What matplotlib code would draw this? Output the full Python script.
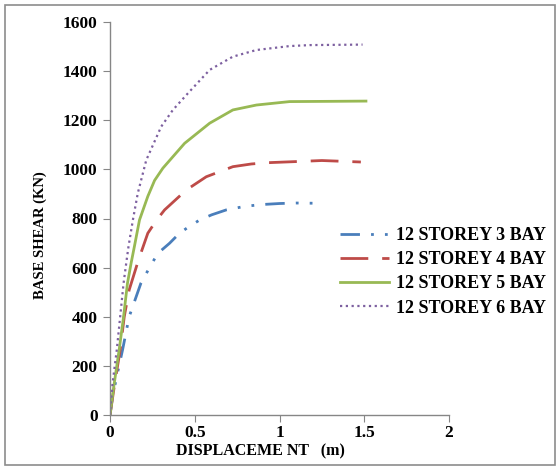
import matplotlib
matplotlib.use("Agg")
import matplotlib.pyplot as plt
from matplotlib.patches import Rectangle

labels = ["12 STOREY 3 BAY", "12 STOREY 4 BAY", "12 STOREY 5 BAY", "12 STOREY 6 BAY"]

x_3bay = [0.0, 0.015, 0.048, 0.074, 0.113, 0.182, 0.233, 0.282, 0.351, 0.41, 0.46, 0.529, 0.60, 0.686, 0.80, 0.90, 1.00, 1.10, 1.22]
y_3bay = [0, 75, 183, 265, 400, 536, 600, 658, 699, 740, 764, 794, 815, 835, 850, 857, 861, 863, 862]

x_4bay = [0.0, 0.028, 0.06, 0.084, 0.113, 0.168, 0.223, 0.273, 0.322, 0.45, 0.568, 0.725, 0.834, 0.923, 1.07, 1.25, 1.48]
y_4bay = [0, 129, 265, 400, 509, 631, 740, 792, 835, 916, 970, 1011, 1022, 1027, 1031, 1036, 1030]

x_5bay = [0.0, 0.025, 0.054, 0.08, 0.103, 0.125, 0.145, 0.174, 0.223, 0.263, 0.312, 0.44, 0.588, 0.725, 0.864, 1.06, 1.30, 1.51]
y_5bay = [0, 129, 265, 400, 536, 620, 690, 794, 890, 955, 1005, 1106, 1188, 1242, 1262, 1276, 1277, 1278]

x_6bay = [0.0, 0.015, 0.04, 0.06, 0.08, 0.098, 0.109, 0.135, 0.164, 0.214, 0.302, 0.371, 0.46, 0.588, 0.725, 0.864, 1.06, 1.18, 1.49]
y_6bay = [0, 129, 265, 400, 536, 630, 685, 794, 903, 1038, 1174, 1242, 1310, 1405, 1459, 1486, 1502, 1506, 1508]

x_ticks = [0, 0.5, 1, 1.5, 2]
x_tick_labels = ["0", "0.5", "1", "1.5", "2"]
y_ticks = [0, 200, 400, 600, 800, 1000, 1200, 1400, 1600]

plt.rcParams['font.family'] = ['Liberation Serif', 'DejaVu Serif']

fig = plt.figure(figsize=(5.6, 4.68), dpi=100)
fig.patches.append(Rectangle((5/560, 3/468), 550/560, 460/468, transform=fig.transFigure,
                             fill=False, edgecolor='#8c8c8c', linewidth=1.2))
ax = fig.add_axes([110/560, 1 - 415/468, (449-110)/560, (415-22)/468])

ax.plot(x_3bay, y_3bay, color='#4a7ebb', lw=2, linestyle=(0, (7, 4, 1, 4, 1, 4)), label=labels[0])
ax.plot(x_4bay, y_4bay, color='#be4b48', lw=2, linestyle=(0, (10, 5)), label=labels[1])
ax.plot(x_5bay, y_5bay, color='#98b954', lw=2, linestyle='-', label=labels[2])
ax.plot(x_6bay, y_6bay, color='#7d60a0', lw=1.6, linestyle=(0, (1, 1.6)), label=labels[3])

ax.set_xlim(0, 2)
ax.set_ylim(0, 1600)
ax.set_xticks(x_ticks)
ax.set_xticklabels(x_tick_labels)
ax.set_yticks(y_ticks)
for s in ['top', 'right']:
    ax.spines[s].set_visible(False)
for s in ['left', 'bottom']:
    ax.spines[s].set_color('#868686')
    ax.spines[s].set_linewidth(1.0)
ax.tick_params(direction='out', length=5, color='#868686', labelsize=12.5)
ax.tick_params(axis='x', pad=2)
ax.tick_params(axis='y', pad=4)
for t in ax.get_xticklabels() + ax.get_yticklabels():
    t.set_fontweight('bold')

fig.text(260/560, 1 - 451/468, "DISPLACEME NT   (m)", ha='center', va='center',
         fontsize=11.5, fontweight='bold')
fig.text(40/560, 1 - 235/468, "BASE SHEAR (KN)", ha='center', va='center',
         fontsize=10.5, fontweight='bold', rotation=90)

leg = ax.legend(loc='upper left', bbox_to_anchor=((340-110)/(449-110), (415-227)/(415-22)),
                frameon=False, prop={'weight': 'bold', 'size': 13},
                handlelength=2.7, handletextpad=0.4, labelspacing=0.4, borderaxespad=0,
                borderpad=0)

fig.savefig("out.png", dpi=100)
